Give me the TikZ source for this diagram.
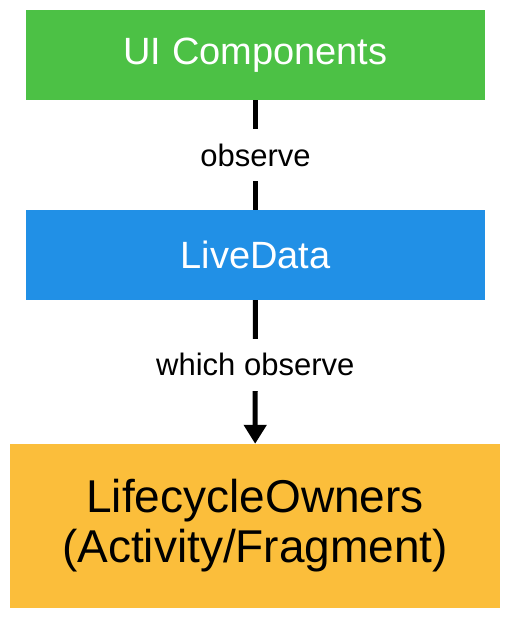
\documentclass[tikz,border=0pt]{standalone}
\usepackage{fontspec}
\setmainfont{Liberation Sans}
\usetikzlibrary{arrows.meta}
\definecolor{uigreen}{RGB}{76,193,69}
\definecolor{ldblue}{RGB}{33,144,230}
\definecolor{ownorange}{RGB}{251,190,59}
\begin{document}
\begin{tikzpicture}[x=1pt,y=-1pt,
    box/.style={draw=none, inner sep=0pt, align=center},
    lbl/.style={fill=white, inner sep=0pt, minimum height=52pt, font=\fontsize{31}{36}\selectfont},
    link/.style={line width=5pt}]
    \useasboundingbox (0,0) rectangle (510,619);

    \node[box, fill=uigreen, text=white, minimum width=459pt, minimum height=90pt,
          font=\fontsize{38}{44}\selectfont] (ui) at (255.5,55) {UI Components};
    \node[box, fill=ldblue, text=white, minimum width=459pt, minimum height=90pt,
          font=\fontsize{38}{44}\selectfont] (livedata) at (255.5,255) {LiveData};
    \node[box, fill=ownorange, minimum width=490pt, minimum height=164pt,
          font=\fontsize{46}{50}\selectfont] (owners) at (255,526) {LifecycleOwners\\(Activity/Fragment)};

    \draw[link] (ui) -- node[lbl] {observe} (livedata);
    \draw[link, -{Triangle[length=19pt, width=22pt]}] (livedata) -- node[lbl, pos=0.45] {which observe} (owners);
\end{tikzpicture}
\end{document}
